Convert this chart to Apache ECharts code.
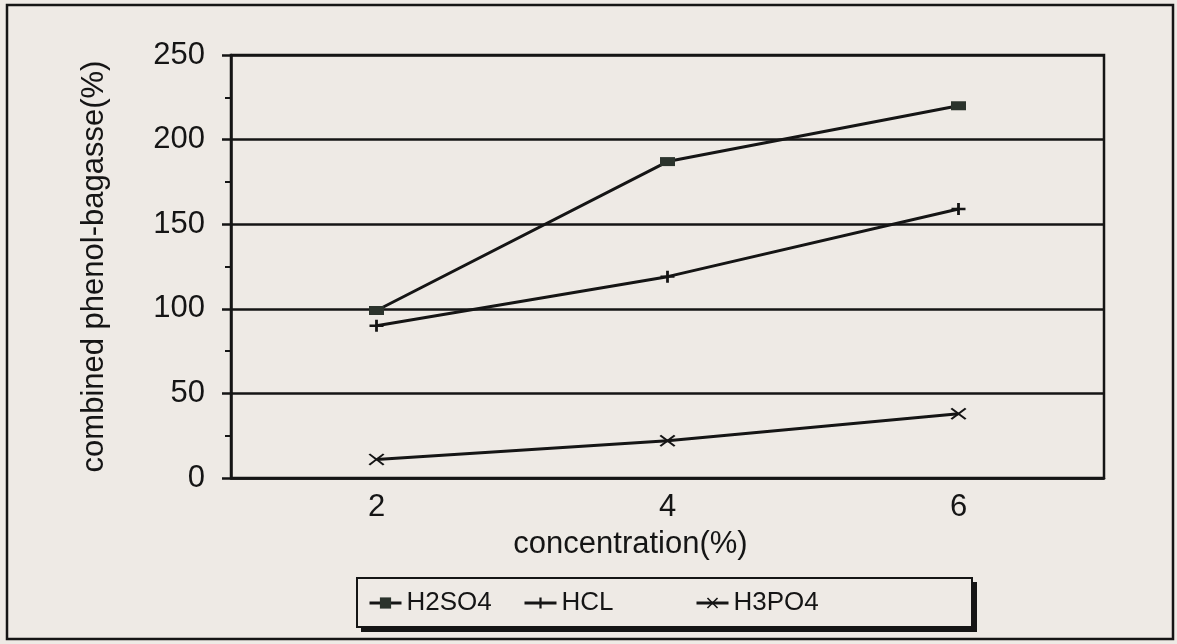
<!DOCTYPE html>
<html>
<head>
<meta charset="utf-8">
<script src="https://cdn.jsdelivr.net/npm/echarts@6/dist/echarts.min.js"></script>
<style>
html,body{margin:0;padding:0;background:#eeeae5;}
#c{width:1177px;height:644px;}
</style>
</head>
<body>
<div id="c"></div>
<script>
const categories = ['2', '4', '6'];
const seriesNames = ['H2SO4', 'HCL', 'H3PO4'];
const h2so4 = [99, 187, 220];
const hcl = [90, 119, 159];
const h3po4 = [11, 22, 38];
const yTicks = { min: 0, max: 250, interval: 50 };

const FONT = '"Liberation Sans", Arial, sans-serif';
const INK = '#151515';
const plusPath = 'path://M4,0H6V4H10V6H6V10H4V6H0V4H4Z';
const crossPath = 'path://M0,1L1,0L5,4L9,0L10,1L6,5L10,9L9,10L5,6L1,10L0,9L4,5Z';

const chart = echarts.init(document.getElementById('c'), null, {renderer: 'canvas'});

function legendAt(name, left) {
  return {
    data: [name], left: left, top: 590, orient: 'horizontal',
    itemWidth: 32, itemHeight: 14, padding: 0,
    lineStyle: {width: 3, color: INK},
    textStyle: {fontFamily: FONT, fontSize: 26, color: INK},
    selectedMode: false
  };
}

const option = {
  backgroundColor: '#eeeae5',
  animation: false,
  grid: {left: 231, right: 73, top: 55, bottom: 166, show: true,
         borderColor: INK, borderWidth: 2.5, backgroundColor: 'transparent'},
  legend: [legendAt('H2SO4', 368), legendAt('HCL', 523), legendAt('H3PO4', 695)],
  graphic: [
    {type: 'rect', shape: {x: 7, y: 5, width: 1166, height: 634}, z: -10,
     style: {fill: 'transparent', stroke: INK, lineWidth: 2.5}},
    {type: 'rect', shape: {x: 361, y: 582, width: 616, height: 50}, z: -9,
     style: {fill: INK}},
    {type: 'rect', shape: {x: 357, y: 578, width: 615, height: 49}, z: -8,
     style: {fill: '#eeeae5', stroke: INK, lineWidth: 2}}
  ],
  xAxis: {
    type: 'category', data: categories, boundaryGap: true,
    name: 'concentration(%)', nameLocation: 'middle', nameGap: 51,
    nameTextStyle: {fontFamily: FONT, fontSize: 31, color: INK, padding: [0, 74, 0, 0]},
    axisLine: {lineStyle: {color: INK, width: 2.5}},
    axisTick: {alignWithLabel: true, length: 10, lineStyle: {color: INK, width: 2.5}},
    axisLabel: {fontFamily: FONT, fontSize: 31, color: INK, margin: 14},
    splitLine: {show: false}
  },
  yAxis: {
    type: 'value', min: yTicks.min, max: yTicks.max, interval: yTicks.interval,
    name: 'combined phenol-bagasse(%)', nameLocation: 'middle', nameGap: 121,
    nameTextStyle: {fontFamily: FONT, fontSize: 31, color: INK},
    axisLine: {show: true, lineStyle: {color: INK, width: 2.5}},
    axisTick: {show: true, length: 9, lineStyle: {color: INK, width: 2.5}},
    minorTick: {show: true, splitNumber: 2, length: 6, lineStyle: {color: INK, width: 2}},
    axisLabel: {fontFamily: FONT, fontSize: 31, color: INK, margin: 26},
    splitLine: {show: true, lineStyle: {color: INK, width: 2.5}}
  },
  series: [
    {name: seriesNames[0], type: 'line', data: h2so4, symbol: 'rect', symbolSize: [15, 9],
     lineStyle: {color: INK, width: 3}, itemStyle: {color: '#2b332c'}, z: 5},
    {name: seriesNames[1], type: 'line', data: hcl, symbol: plusPath, symbolSize: [14, 12],
     lineStyle: {color: INK, width: 3}, itemStyle: {color: INK}, z: 4},
    {name: seriesNames[2], type: 'line', data: h3po4, symbol: crossPath, symbolSize: [16, 12],
     lineStyle: {color: INK, width: 3}, itemStyle: {color: INK}, z: 3}
  ]
};
chart.setOption(option);
</script>
</body>
</html>
